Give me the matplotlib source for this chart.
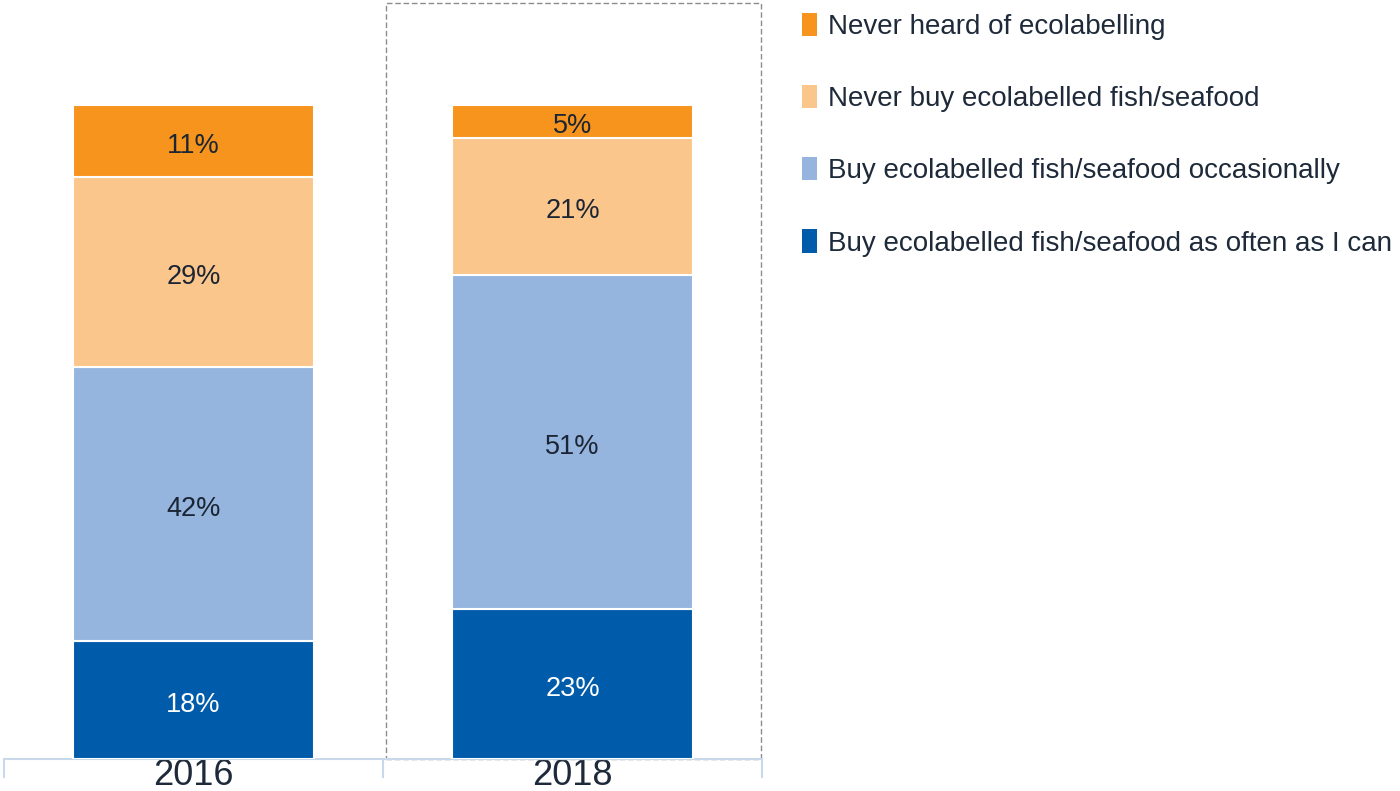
import matplotlib.pyplot as plt
from matplotlib.patches import Rectangle, Patch

plt.rcParams['font.family'] = ['Liberation Sans', 'DejaVu Sans']

years = ['2016', '2018']
categories = [
    'Buy ecolabelled fish/seafood as often as I can',
    'Buy ecolabelled fish/seafood occasionally',
    'Never buy ecolabelled fish/seafood',
    'Never heard of ecolabelling',
]
# shares per year, stacked from the bottom up
as_often = [18, 23]
occasionally = [42, 51]
never_buy = [29, 21]
never_heard = [11, 5]
series = [as_often, occasionally, never_buy, never_heard]

colors = ['#005baa', '#95b5de', '#fbc68b', '#f7941d']
label_colors = ['white', '#1b2533', '#1b2533', '#1b2533']
text_dark = '#1e2a3a'
axis_col = '#c9d9ea'

fig = plt.figure(figsize=(14, 7.91), dpi=100)
ax = fig.add_axes([4 / 1400, 32 / 791, 758 / 1400, 757 / 791])

x = range(len(years))
bottom = [0, 0]
for vals, col, tcol in zip(series, colors, label_colors):
    bars = ax.bar(x, vals, width=0.636, bottom=bottom, color=col,
                  edgecolor='white', linewidth=1.5, zorder=3)
    for b, v in zip(bars, vals):
        ax.annotate(f'{v}%', (b.get_x() + b.get_width() / 2, b.get_y() + v / 2),
                    xytext=(0, -3.5), textcoords='offset points',
                    ha='center', va='center', fontsize=19.5, color=tcol,
                    zorder=4)
    bottom = [b0 + v for b0, v in zip(bottom, vals)]

ytop = 757 / 6.54
ax.set_xlim(-0.5, 1.5)
ax.set_ylim(0, ytop)

# dashed frame around the latest year
ax.add_patch(Rectangle((0.508, 0), 0.99, ytop - 0.2, fill=False,
                       edgecolor='#8c8c8c', linestyle=(0, (4, 2)),
                       linewidth=1.0, clip_on=False, zorder=2))

for side in ['top', 'right', 'left']:
    ax.spines[side].set_visible(False)
ax.spines['bottom'].set_color(axis_col)
ax.spines['bottom'].set_linewidth(1.5)
ax.set_yticks([])
ax.set_xticks([-0.5, 0.5, 1.5])
ax.set_xticklabels([])
ax.set_xticks([0, 1], minor=True)
ax.set_xticklabels(years, minor=True, fontsize=26, color=text_dark)
ax.tick_params(axis='x', which='major', length=14, width=1.5, color=axis_col,
               direction='out')
ax.tick_params(axis='x', which='minor', length=0, pad=-1)

handles = [Patch(facecolor=c, edgecolor='none') for c in colors][::-1]
fig.legend(handles, categories[::-1], loc='upper left',
           bbox_to_anchor=(791 / 1400, 1.0 - 2 / 791), frameon=False,
           fontsize=20, handlelength=0.54, handleheight=0.9,
           handletextpad=0.4, labelspacing=1.62, labelcolor=text_dark,
           borderaxespad=0)

fig.savefig('out.png', dpi=100)
